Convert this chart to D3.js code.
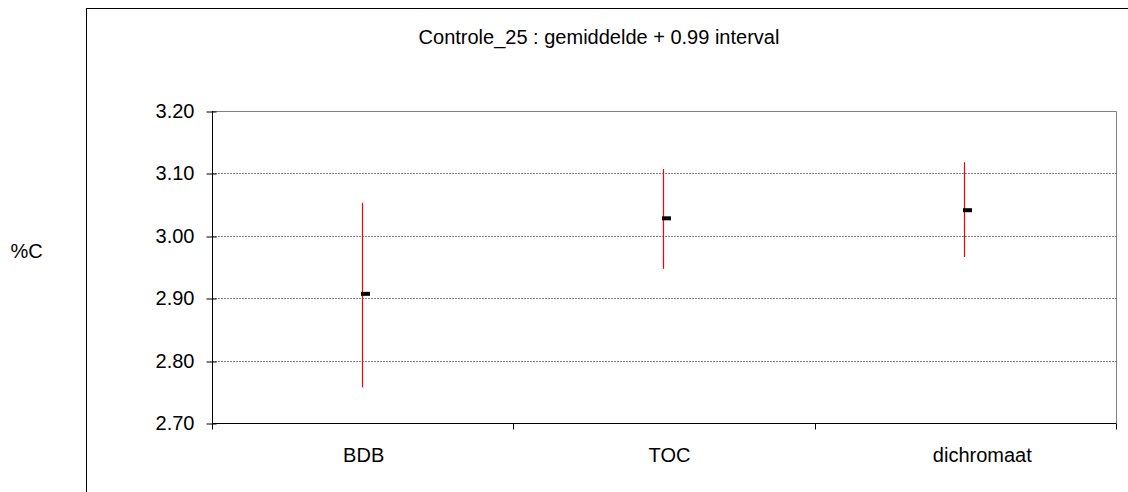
<!DOCTYPE html>
<html><head><meta charset="utf-8">
<script src="https://cdn.jsdelivr.net/npm/d3@7"></script>
<style>body{margin:0;background:#fff}svg{display:block}text{font-family:"Liberation Sans",Arial,sans-serif}</style>
</head><body>
<script>
const categories = ["BDB", "TOC", "dichromaat"];
const means = [2.907, 3.028, 3.041];
const lowers = [2.757, 2.947, 2.966];
const uppers = [3.053, 3.107, 3.118];
const yTicks = [2.70, 2.80, 2.90, 3.00, 3.10, 3.20];
const title = "Controle_25 : gemiddelde + 0.99 interval";
const yLabel = "%C";

const W = 1128, H = 492, FS = 20;
const labelShift = [1, 5.5, 17]; // layout nudges of category labels
const svg = d3.select("body").append("svg").attr("width", W).attr("height", H);
svg.append("rect").attr("x", 86.5).attr("y", 8.5).attr("width", 1200).attr("height", 600)
  .attr("fill", "#fff").attr("stroke", "#000").attr("stroke-width", 1);

const L = 212, R = 1116, T = 111, B = 423;
const x = d3.scaleBand().domain(categories).range([L, R]);
const y = d3.scaleLinear().domain([2.70, 3.20]).range([B, T]);

// gridlines
svg.append("g").selectAll("line").data(yTicks.slice(1, -1)).join("line")
  .attr("x1", L).attr("x2", R).attr("y1", d => Math.round(y(d)) + 0.5).attr("y2", d => Math.round(y(d)) + 0.5)
  .attr("stroke", "#808080").attr("stroke-width", 1).attr("stroke-dasharray", "2,1");
// top and right border
svg.append("path").attr("d", `M${L},${T + 0.5}H${R + 0.5}V${B}`).attr("fill", "none").attr("stroke", "#808080");

// y axis
const yAxis = d3.axisLeft(y).tickValues(yTicks).tickFormat(d3.format(".2f")).tickSize(6).tickPadding(12);
const gy = svg.append("g").attr("transform", `translate(${L + 0.5},0)`).call(yAxis);
gy.selectAll("text").attr("font-size", FS).attr("fill", "#000");
gy.selectAll(".tick line").attr("stroke", "#000").attr("x1", 4).attr("transform", d => `translate(0,${Math.round(y(d)) + 0.5 - y(d)})`);
gy.select(".domain").attr("stroke", "#000").attr("d", `M0,${T}V${B}`);

// x axis
const xAxis = d3.axisBottom(x).tickSize(0).tickPadding(24.5);
const gx = svg.append("g").attr("transform", `translate(0,${B + 0.5})`).call(xAxis);
gx.selectAll("text").attr("font-size", FS).attr("fill", "#000").attr("dx", (d, i) => labelShift[i]);
gx.select(".domain").attr("stroke", "#000").attr("d", `M${L},0H${R + 0.5}`);
const bounds = categories.map(c => x(c)).concat([x(categories[categories.length - 1]) + x.bandwidth()]);
gx.selectAll("line.bnd").data(bounds).join("line").attr("class", "bnd")
  .attr("x1", d => Math.round(d) + 0.5).attr("x2", d => Math.round(d) + 0.5).attr("y1", 0).attr("y2", 6)
  .attr("stroke", "#000");

// intervals
const cx = c => Math.round(x(c) + x.bandwidth() / 2);
svg.append("g").selectAll("line").data(categories).join("line")
  .attr("x1", c => cx(c) - 0.5).attr("x2", c => cx(c) - 0.5)
  .attr("y1", (c, i) => y(uppers[i])).attr("y2", (c, i) => y(lowers[i]))
  .attr("stroke", "#ff0000").attr("stroke-width", 1.2);
// means
svg.append("g").selectAll("rect").data(categories).join("rect")
  .attr("x", c => cx(c) - 2).attr("y", (c, i) => y(means[i]) - 2)
  .attr("width", 9).attr("height", 4).attr("fill", "#000");

svg.append("text").attr("x", 599).attr("y", 44).attr("text-anchor", "middle").attr("font-size", FS).text(title);
svg.append("text").attr("x", 26.5).attr("y", 258).attr("text-anchor", "middle").attr("font-size", FS).text(yLabel);
</script>
</body></html>
